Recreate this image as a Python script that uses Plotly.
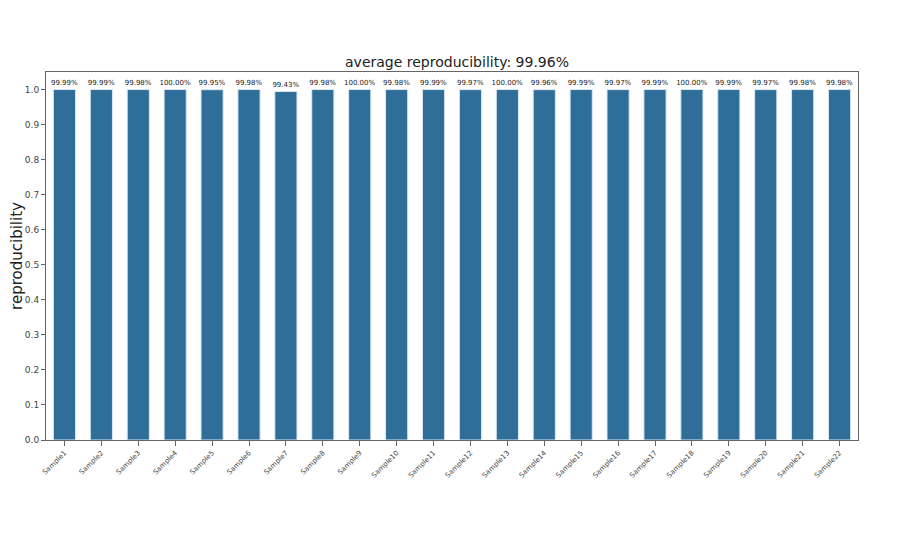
import plotly.graph_objects as go

samples = ["Sample%d" % i for i in range(1, 23)]
reproducibility = [0.9999, 0.9999, 0.9998, 1.0000, 0.9995, 0.9998, 0.9943, 0.9998,
                   1.0000, 0.9998, 0.9999, 0.9997, 1.0000, 0.9996, 0.9999, 0.9997,
                   0.9999, 1.0000, 0.9999, 0.9997, 0.9998, 0.9998]
y_ticks = [0.0, 0.1, 0.2, 0.3, 0.4, 0.5, 0.6, 0.7, 0.8, 0.9, 1.0]

avg = sum(reproducibility) / len(reproducibility)
labels = ["%.2f%%" % (v * 100) for v in reproducibility]

fig = go.Figure(go.Bar(
    x=samples, y=reproducibility,
    width=0.6,
    marker=dict(color="#2e6e99", line=dict(color="#dbe6ef", width=1)),
    text=labels, textposition="outside", cliponaxis=False, constraintext="none",
    textfont=dict(size=7, color="#222222", family="DejaVu Sans"),
))

# page body has an 8px margin, so margins are shifted to compensate
fig.update_layout(
    width=922, height=558,
    paper_bgcolor="white", plot_bgcolor="white",
    margin=dict(l=38, r=72, t=64, b=126),
    font=dict(family="DejaVu Sans", color="#333333"),
    title=dict(text="average reproducibility: 99.96%", x=0.487, xanchor="center",
               y=0.903, yanchor="middle", font=dict(size=14, color="#222222")),
    showlegend=False,
)
fig.update_xaxes(
    range=[-0.5, 21.5], tickangle=-45, tickfont=dict(size=7, color="#444444"),
    showline=True, linecolor="#666666", mirror=True, linewidth=1,
    ticks="outside", ticklen=5, tickcolor="#666666", showgrid=False,
    automargin=False,
)
fig.update_yaxes(
    range=[0, 1.05], tickvals=y_ticks, ticktext=["%.1f" % t for t in y_ticks],
    tickfont=dict(size=9, color="#444444"),
    title=dict(text="reproducibility", font=dict(size=15, color="#222222"), standoff=8),
    showline=True, linecolor="#666666", mirror=True, linewidth=1,
    ticks="outside", ticklen=4, tickcolor="#666666", showgrid=False, zeroline=False,
    automargin=False,
)

fig.write_html("out.html")
